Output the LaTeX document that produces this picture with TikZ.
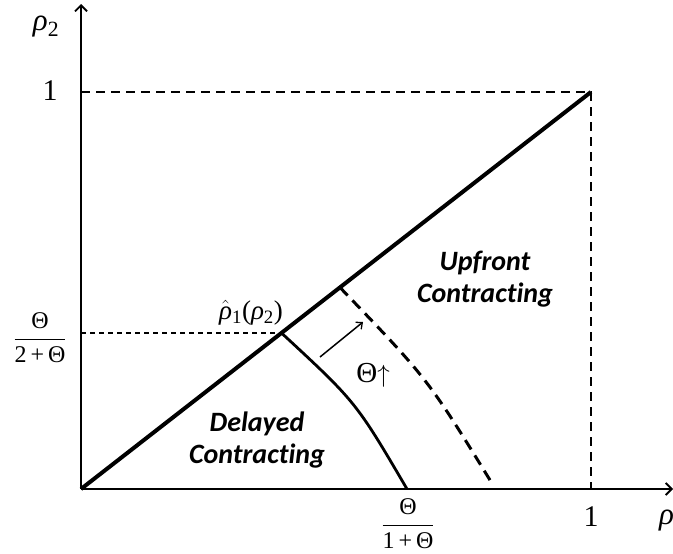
\documentclass[tikz,border=0pt]{standalone}
\usepackage{fontspec}
\setmainfont{Liberation Serif}
\newfontfamily\calibri[Ligatures={NoCommon}]{Carlito}
\usetikzlibrary{arrows.meta}
\begin{document}
\begin{tikzpicture}[x=1pt,y=-1pt,
  axis/.style={line width=2.8pt,-{Straight Barb[length=6pt,width=12pt,line width=1.8pt]}},
  diag/.style={line width=4pt},
  bound/.style={line width=2.8pt},
  shifted/.style={line width=3pt,dash pattern=on 11pt off 7pt},
  guide/.style={line width=2.2pt,dash pattern=on 9pt off 6pt},
  thinguide/.style={line width=1.2pt,dash pattern=on 5pt off 4pt},
  thinarrow/.style={line width=1.5pt,-{Straight Barb[length=5pt,width=9pt,line width=1.3pt]}},
  region/.style={font=\calibri\bfseries\itshape\fontsize{28}{32}\selectfont,align=center,inner sep=0pt},
  lab/.style={inner sep=0pt}]
\useasboundingbox (0,0) rectangle (673,554);
% key points
\coordinate (O) at (81,489);
\coordinate (ytip) at (81,4);
\coordinate (xtip) at (673,489);
\coordinate (P) at (591,92);
\coordinate (Y1) at (81,92);
\coordinate (X1) at (591,489);
\coordinate (Q) at (281.5,333);
\coordinate (Yq) at (81,333);
\coordinate (A) at (407,489);
\coordinate (D1) at (340,287.5);
\coordinate (D2) at (493,485);
\coordinate (ar1) at (320,357);
\coordinate (ar2) at (363,322);
% guides
\draw[guide] (Y1) -- (P) -- (X1);
\draw[thinguide] (Yq) -- (Q);
% axes
\draw[axis] (O) -- (ytip);
\draw[axis] (O) -- (xtip);
% diagonal
\draw[diag] (O) -- (P);
% boundary curves
\draw[bound] (Q) .. controls (356,402) .. (A);
\draw[shifted] (D1) .. controls (428,379) .. (D2);
\draw[thinarrow] (ar1) -- (ar2);
% labels
\node[lab] (r2) at (46,27) {\fontsize{31}{34}\selectfont\textit{ρ}\textsubscript{2}};
\node[lab] (oney) at (50,91) {\fontsize{30}{34}\selectfont 1};
\node[lab] (onex) at (591,517) {\fontsize{30}{34}\selectfont 1};
\node[lab,anchor=west] (r1) at (659,521) {\fontsize{31}{34}\selectfont\textit{ρ}\textsubscript{1}};
\node[lab] (f2) at (40,338) {\fontsize{24}{28}\selectfont$\displaystyle\frac{\mbox{Θ}}{\mbox{2\,+\,Θ}}$};
\node[lab] (f1) at (408,524) {\fontsize{24}{28}\selectfont$\displaystyle\frac{\mbox{Θ}}{\mbox{1\,+\,Θ}}$};
\node[lab] (hat) at (251,313) {\fontsize{27}{30}\selectfont$\hat{\mbox{\textit{ρ}}}$\textsubscript{1}(\textit{ρ}\textsubscript{2})};
\node[lab] (th) at (373,375) {\fontsize{29}{32}\selectfont Θ$\uparrow$};
\node[region] (up) at (485,279) {Upfront\\Contracting};
\node[region] (del) at (257,440) {Delayed\\Contracting};
\end{tikzpicture}
\end{document}
